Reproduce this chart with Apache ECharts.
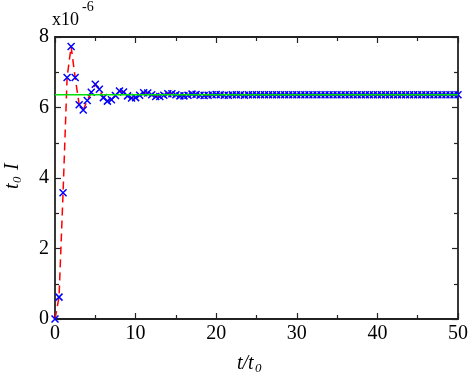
<!DOCTYPE html>
<html><head><meta charset="utf-8">
<script src="https://cdn.jsdelivr.net/npm/echarts@6/dist/echarts.min.js"></script>
<style>html,body{margin:0;padding:0;background:#fff}#c{width:471px;height:380px}</style>
</head><body><div id="c"></div>
<script>
// time values t/t0 (step 0.5)
const tValues = [0,0.5,1,1.5,2,2.5,3,3.5,4,4.5,5,5.5,6,6.5,7,7.5,8,8.5,9,9.5,10,10.5,11,11.5,12,12.5,13,13.5,14,14.5,15,15.5,16,16.5,17,17.5,18,18.5,19,19.5,20,20.5,21,21.5,22,22.5,23,23.5,24,24.5,25,25.5,26,26.5,27,27.5,28,28.5,29,29.5,30,30.5,31,31.5,32,32.5,33,33.5,34,34.5,35,35.5,36,36.5,37,37.5,38,38.5,39,39.5,40,40.5,41,41.5,42,42.5,43,43.5,44,44.5,45,45.5,46,46.5,47,47.5,48,48.5,49,49.5,50];
// t0 I values (x1e-6)
const iValues = [0,0.62,3.58,6.85,7.73,6.85,6.08,5.93,6.2,6.43,6.66,6.52,6.28,6.18,6.22,6.34,6.47,6.44,6.33,6.27,6.28,6.35,6.42,6.41,6.36,6.31,6.31,6.35,6.39,6.39,6.36,6.33,6.33,6.35,6.38,6.37,6.35,6.34,6.35,6.36,6.37,6.36,6.35,6.35,6.36,6.36,6.36,6.35,6.36,6.36,6.36,6.36,6.36,6.36,6.36,6.36,6.36,6.36,6.36,6.36,6.36,6.36,6.36,6.36,6.36,6.36,6.36,6.36,6.36,6.36,6.36,6.36,6.36,6.36,6.36,6.36,6.36,6.36,6.36,6.36,6.36,6.36,6.36,6.36,6.36,6.36,6.36,6.36,6.36,6.36,6.36,6.36,6.36,6.36,6.36,6.36,6.36,6.36,6.36,6.36,6.36];
// steady-state reference level
const steadyX = [0, 50];
const steadyY = [6.36, 6.36];
// axis ticks
const xTicks = [0,10,20,30,40,50];
const yTicks = [0,2,4,6,8];

const chart = echarts.init(document.getElementById('c'), null, {renderer:'canvas'});
const font = 'Liberation Serif';
const axisColor = '#222';
const baseAxis = {
  axisLine:{show:true, onZero:false, lineStyle:{color:axisColor, width:1.8}},
  axisTick:{show:true, inside:true, length:6, lineStyle:{color:axisColor, width:1.2}},
  minorTick:{show:true, splitNumber:2, length:4, lineStyle:{color:axisColor, width:1.2}},
  splitLine:{show:false}
};
const option = {
  animation:false,
  backgroundColor:'#fff',
  grid:{left:55, right:13, top:37, bottom:61, containLabel:false},
  xAxis:[
    Object.assign({type:'value', position:'bottom', min:xTicks[0], max:xTicks[xTicks.length-1], interval:10,
      axisLabel:{show:true, fontFamily:font, fontSize:20, color:'#000', margin:5}}, baseAxis),
    Object.assign({type:'value', position:'top', min:xTicks[0], max:xTicks[xTicks.length-1], interval:10,
      axisLabel:{show:false}}, baseAxis)
  ],
  yAxis:[
    Object.assign({type:'value', position:'left', min:yTicks[0], max:yTicks[yTicks.length-1], interval:2,
      axisLabel:{show:true, fontFamily:font, fontSize:20, color:'#000', margin:6}}, baseAxis),
    Object.assign({type:'value', position:'right', min:yTicks[0], max:yTicks[yTicks.length-1], interval:2,
      axisLabel:{show:false}}, baseAxis)
  ],
  series:[
    {
      type:'line', xAxisIndex:0, yAxisIndex:0,
      data: tValues.map((t,i)=>[t, iValues[i]]),
      lineStyle:{color:'#ff0000', width:1.5, type:[8,5]},
      symbol:'path://M0,0L10,10M10,0L0,10',
      symbolSize:7,
      showAllSymbol:true,
      itemStyle:{color:'rgba(0,0,0,0)', borderColor:'#0000ff', borderWidth:1.5},
      z:2
    },
    {
      type:'line', xAxisIndex:0, yAxisIndex:0,
      data: steadyX.map((x,i)=>[x, steadyY[i]]),
      lineStyle:{color:'#00e000', width:1.5},
      symbol:'none',
      z:3
    }
  ],
  graphic:[
    {type:'text', left:52, top:11, style:{text:'x10', fontFamily:font, fontSize:18, fill:'#000'}},
    {type:'text', left:82, top:0, style:{text:'-6', fontFamily:font, fontSize:14, fill:'#000'}},
    {type:'group', x:13, y:173, rotation:Math.PI/2, children:[
      {type:'text', x:-16, y:-10, style:{text:'t', fontFamily:font, fontStyle:'italic', fontSize:20, fill:'#000'}},
      {type:'text', x:-10, y:-2, style:{text:'0', fontFamily:font, fontStyle:'italic', fontSize:13, fill:'#000'}},
      {type:'text', x:3, y:-10, style:{text:'I', fontFamily:font, fontStyle:'italic', fontSize:20, fill:'#000'}}
    ]},
    {type:'group', x:254, y:354, children:[
      {type:'text', x:-17, y:0, style:{text:'t/t', fontFamily:font, fontStyle:'italic', fontSize:20, fill:'#000'}},
      {type:'text', x:1, y:8, style:{text:'0', fontFamily:font, fontStyle:'italic', fontSize:13, fill:'#000'}}
    ]}
  ]
};
chart.setOption(option);
</script>
</body></html>
